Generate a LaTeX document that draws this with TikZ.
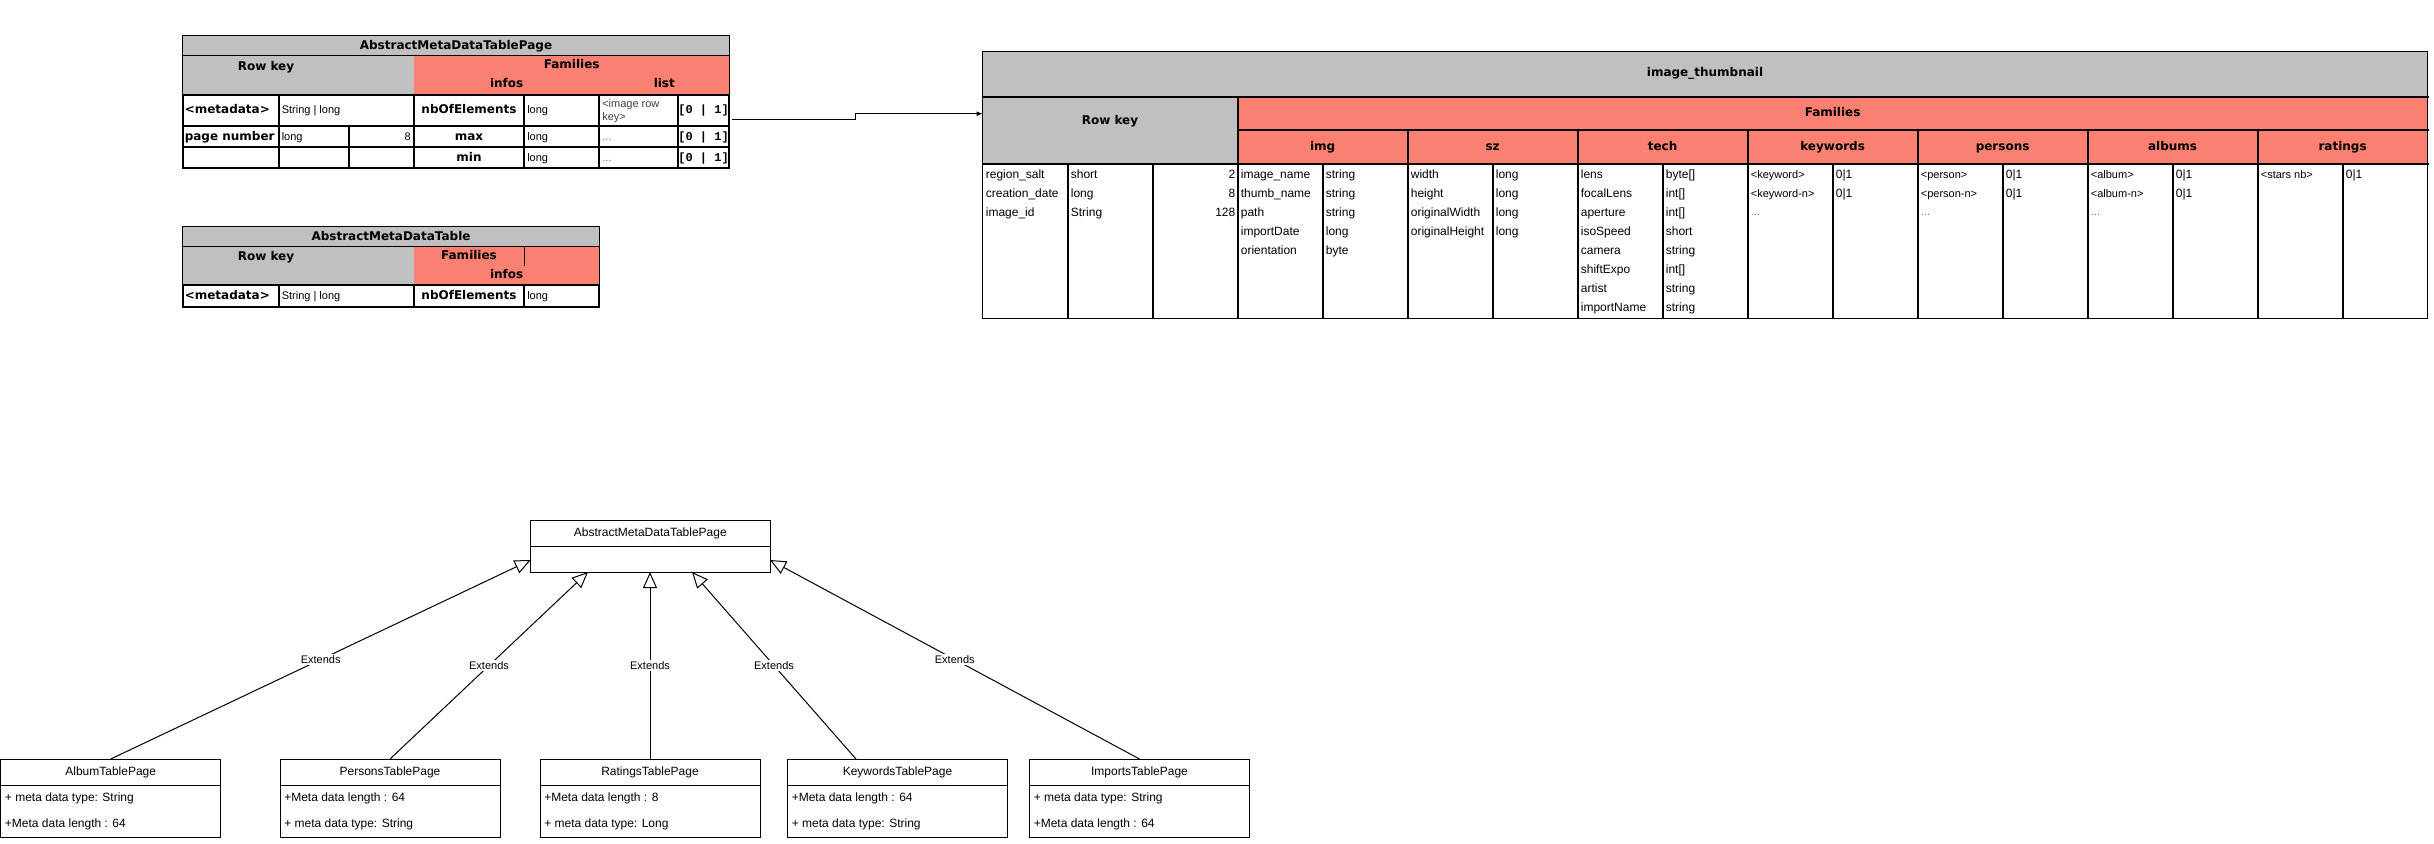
\documentclass[tikz,border=0pt]{standalone}
\usepackage{fontspec}
\setmainfont{Liberation Sans}
\newfontfamily\hdfont{DejaVu Sans}
\newfontfamily\cardfont{Liberation Mono}
\usetikzlibrary{arrows.meta}
\definecolor{hdgray}{HTML}{C0C0C0}
\definecolor{salmon}{HTML}{FA8072}
\definecolor{txtgray}{HTML}{707070}
\tikzset{
  even/.style={text height=0.72em, text depth=0.2em},
  hd/.style={font=\hdfont\bfseries\fontsize{9}{10}\selectfont, inner sep=0pt, even},
  txt/.style={font=\fontsize{8.25}{9.75}\selectfont, inner sep=0pt, anchor=west, even},
  btxt/.style={font=\fontsize{9}{10}\selectfont, inner sep=0pt, anchor=west, even},
  dim/.style={txt, text=txtgray},
  card/.style={font=\cardfont\bfseries\fontsize{9}{10}\selectfont, inner sep=0pt, even},
  frame/.style={line width=0.75pt},
  grid/.style={line width=1.5pt, line cap=rect},
  uml/.style={font=\fontsize{9}{10}\selectfont, inner sep=0pt, even},
  lbl/.style={font=\fontsize{8.25}{9}\selectfont, fill=white, inner sep=1pt},
  extends/.style={line width=0.75pt, -{Triangle[length=12pt, width=10.5pt, fill=white]}},
  link/.style={line width=0.75pt, -{Latex[length=4.5pt, width=3.75pt]}},
}
\begin{document}
\begin{tikzpicture}[x=0.75pt, y=-0.75pt]
\useasboundingbox[fill=white] (0,0) rectangle (2434,843);

% ---------- AbstractMetaDataTablePage ----------
\fill[hdgray] (182.5,35.7) rectangle (729.3,95);
\fill[salmon] (414,55.7) rectangle (729.3,95);
\draw[frame] (182.5,35.7) rectangle (729.3,95);
\draw[frame] (182.5,55.7) -- (729.3,55.7);
\draw[grid] (182.5,95) rectangle (729.3,168.3);
\draw[grid] (182.5,126) -- (729.3,126);
\draw[grid] (182.5,147.3) -- (729.3,147.3);
\foreach \x in {278.7,414,524,599.3,677.7} \draw[grid] (\x,95) -- (\x,168.3);
\draw[grid] (349.3,126) -- (349.3,168.3);

\node[hd] (p-title) at (456,45.7) {AbstractMetaDataTablePage};
\node[hd] (p-rowkey) at (266,66.7) {Row key};
\node[hd] (p-fam) at (571.7,65) {Families};
\node[hd] (p-infos) at (506.7,84.3) {infos};
\node[hd] (p-list) at (664.3,84.3) {list};

\node[hd, anchor=west] (p-meta) at (184.5,110.5) {<metadata>};
\node[txt] (p-metatype) at (281.5,110.5) {String | long};
\node[hd] (p-nb) at (469,110.5) {nbOfElements};
\node[txt] (p-nbtype) at (527,110.5) {long};
\node[anchor=west, inner sep=0pt, align=left, font=\fontsize{8.25}{9.9}\selectfont, text=black!75] (p-key) at (602,111) {<image row\\key>};
\node[card] (p-c1) at (703.5,110.5) {[0 | 1]};

\node[hd, anchor=west] (p-page) at (184.5,136.7) {page number};
\node[txt] (p-pagetype) at (281.5,136.7) {long};
\node[txt, anchor=east] (p-pagelen) at (411,136.7) {8};
\node[hd] (p-max) at (469,136.7) {max};
\node[txt] (p-maxtype) at (527,136.7) {long};
\node[dim] (p-d1) at (602,136.7) {...};
\node[card] (p-c2) at (703.5,136.7) {[0 | 1]};

\node[hd] (p-min) at (469,157.8) {min};
\node[txt] (p-mintype) at (527,157.8) {long};
\node[dim] (p-d2) at (602,157.8) {...};
\node[card] (p-c3) at (703.5,157.8) {[0 | 1]};

% ---------- AbstractMetaDataTable ----------
\fill[hdgray] (182.5,226.7) rectangle (599.3,285);
\fill[salmon] (414,246.7) rectangle (599.3,285);
\draw[frame] (182.5,226.7) rectangle (599.3,285);
\draw[frame] (182.5,246.7) -- (599.3,246.7);
\draw[frame] (524,246.7) -- (524,265.7);
\draw[grid] (182.5,285) rectangle (599.3,306.7);
\foreach \x in {278.7,414,524} \draw[grid] (\x,285) -- (\x,306.7);

\node[hd] (t-title) at (391,236.7) {AbstractMetaDataTable};
\node[hd] (t-rowkey) at (266,257.3) {Row key};
\node[hd] (t-fam) at (469,255.7) {Families};
\node[hd] (t-infos) at (506.7,275) {infos};
\node[hd, anchor=west] (t-meta) at (184.5,295.8) {<metadata>};
\node[txt] (t-metatype) at (281.5,295.8) {String | long};
\node[hd] (t-nb) at (469,295.8) {nbOfElements};
\node[txt] (t-nbtype) at (527,295.8) {long};

% ---------- image_thumbnail ----------
\fill[hdgray] (982.6,51) rectangle (2427.6,164.3);
\fill[salmon] (1237.6,96.7) rectangle (2427.6,164.3);
\draw[frame] (982.6,51) rectangle (2427.6,318.3);
\draw[grid] (982.6,96.7) -- (2427.6,96.7);
\draw[grid] (1237.6,130) -- (2427.6,130);
\draw[grid] (982.6,164.3) -- (2427.6,164.3);
\draw[grid] (1237.6,96.7) -- (1237.6,318.3);
\foreach \k in {5,7,9,11,13,15} \draw[grid] (982.6+85*\k,130) -- (982.6+85*\k,318.3);
\foreach \k in {1,2,4,6,8,10,12,14,16} \draw[grid] (982.6+85*\k,164.3) -- (982.6+85*\k,318.3);

\node[hd] (it-title) at (1705,73) {image\_thumbnail};
\node[hd] (it-rowkey) at (1110,121.5) {Row key};
\node[hd] (it-fam) at (1832.6,113.3) {Families};
\foreach \j/\f in {0/img,1/sz,2/tech,3/keywords,4/persons,5/albums,6/ratings}
  \node[hd] (it-f\j) at (1322.6+170*\j,147.2) {\f};

% row key columns
\foreach \i/\a/\b/\c in {0/region\_salt/short/2,1/creation\_date/long/8,2/image\_id/String/128} {
  \node[btxt] (rk-a\i) at (985.6,175+19*\i) {\a};
  \node[btxt] (rk-b\i) at (1070.6,175+19*\i) {\b};
  \node[btxt, anchor=east] (rk-c\i) at (1235.6,175+19*\i) {\c};
}
% img
\foreach \i/\a/\b in {0/image\_name/string,1/thumb\_name/string,2/path/string,3/importDate/long,4/orientation/byte} {
  \node[btxt] (img-a\i) at (1240.6,175+19*\i) {\a};
  \node[btxt] (img-b\i) at (1325.6,175+19*\i) {\b};
}
% sz
\foreach \i/\a/\b in {0/width/long,1/height/long,2/originalWidth/long,3/originalHeight/long} {
  \node[btxt] (sz-a\i) at (1410.6,175+19*\i) {\a};
  \node[btxt] (sz-b\i) at (1495.6,175+19*\i) {\b};
}
% tech
\foreach \i/\a/\b in {0/lens/{byte[]},1/focalLens/{int[]},2/aperture/{int[]},3/isoSpeed/short,4/camera/string,5/shiftExpo/{int[]},6/artist/string,7/importName/string} {
  \node[btxt] (tech-a\i) at (1580.6,175+19*\i) {\a};
  \node[btxt] (tech-b\i) at (1665.6,175+19*\i) {\b};
}
% keywords, persons, albums
\foreach \j/\w in {3/keyword,4/person,5/album} {
  \node[txt] (fam\j-a0) at (1240.6+170*\j,175) {<\w>};
  \node[btxt] (fam\j-b0) at (1325.6+170*\j,175) {0|1};
  \node[txt] (fam\j-a1) at (1240.6+170*\j,194) {<\w-n>};
  \node[btxt] (fam\j-b1) at (1325.6+170*\j,194) {0|1};
  \node[dim] (fam\j-a2) at (1240.6+170*\j,212) {...};
}
% ratings
\node[txt] (rat-a0) at (2260.6,175) {<stars nb>};
\node[btxt] (rat-b0) at (2345.6,175) {0|1};

% link from the page table to image_thumbnail
\coordinate (pageout) at (731.7,119.3);
\coordinate (thumbin) at (982.6,113.7);
\draw[link] (pageout) -- ++(124,0) |- (thumbin);

% ---------- class hierarchy ----------
\draw[frame] (530.7,520) rectangle (770,572);
\draw[frame] (530.7,546) -- (770,546);
\node[uml] (abs) at (650.35,533) {AbstractMetaDataTablePage};

\foreach \n/\x/\t/\p/\q in {
  album/0.7/AlbumTablePage/{+ meta data type: String}/{+Meta data length : 64},
  persons/280/PersonsTablePage/{+Meta data length : 64}/{+ meta data type: String},
  ratings/540/RatingsTablePage/{+Meta data length : 8}/{+ meta data type: Long},
  keywords/787.5/KeywordsTablePage/{+Meta data length : 64}/{+ meta data type: String},
  imports/1029.5/ImportsTablePage/{+ meta data type: String}/{+Meta data length : 64}} {
  \draw[frame] (\x,759) rectangle (\x+220,837);
  \draw[frame] (\x,785) -- (\x+220,785);
  \node[uml] (\n) at (\x+110,772) {\t};
  \node[uml, anchor=west] (\n-a1) at (\x+4,798) {\p};
  \node[uml, anchor=west] (\n-a2) at (\x+4,824) {\q};
}

\coordinate (album-top) at (110.7,759);
\coordinate (persons-top) at (390,759);
\coordinate (ratings-top) at (650,759);
\coordinate (keywords-top) at (856,759);
\coordinate (imports-top) at (1139.5,759);
\coordinate (abs-w) at (530.7,560);
\coordinate (abs-s1) at (588,572);
\coordinate (abs-s2) at (650,572);
\coordinate (abs-s3) at (692,572);
\coordinate (abs-e) at (770,560);

\draw[extends] (album-top) -- node[lbl] {Extends} (abs-w);
\draw[extends] (persons-top) -- node[lbl] {Extends} (abs-s1);
\draw[extends] (ratings-top) -- node[lbl] {Extends} (abs-s2);
\draw[extends] (keywords-top) -- node[lbl] {Extends} (abs-s3);
\draw[extends] (imports-top) -- node[lbl] {Extends} (abs-e);
\end{tikzpicture}
\end{document}
